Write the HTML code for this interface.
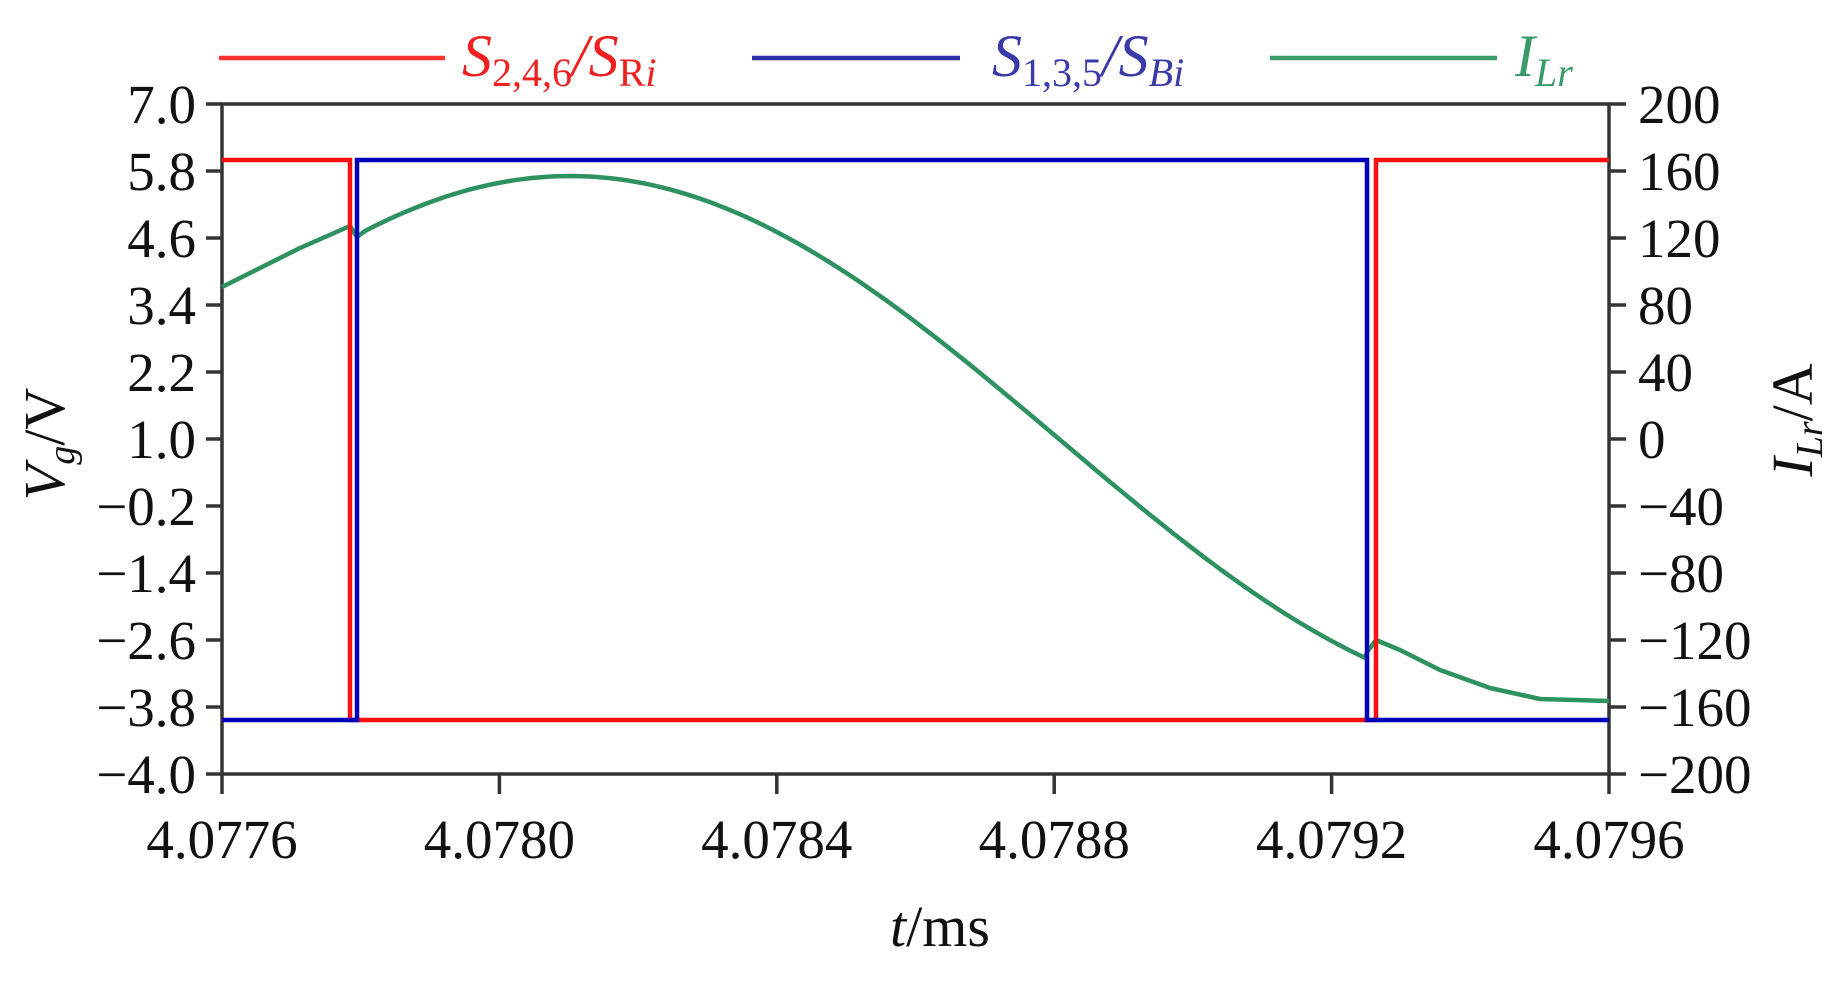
<!DOCTYPE html>
<html><head><meta charset="utf-8"><style>
html,body{margin:0;padding:0;background:#fff;}
svg{display:block;font-family:"Liberation Serif",serif;}
</style></head><body>
<svg id="s" width="1846" height="984" viewBox="0 0 1846 984" xmlns="http://www.w3.org/2000/svg">
<g stroke="#333" stroke-width="3.5" fill="none">
<rect x="222" y="104" width="1387" height="670"/>
</g>
<g id="ticks" stroke="#333" stroke-width="3.5"></g>
<g id="labels" font-size="55" fill="#111"></g>
<polyline id="green" fill="none" stroke="#2e9160" stroke-width="4.5" stroke-linejoin="round"/>
<polyline fill="none" stroke="#ff1010" stroke-width="4.5" points="222,160 350,160 350,720 1376,720 1376,160 1609,160"/>
<polyline fill="none" stroke="#0000b8" stroke-width="4.5" points="222,720 357,720 357,160 1367,160 1367,720 1609,720"/>
<!-- legend -->
<line x1="219" y1="58" x2="445" y2="58" stroke="#ff3030" stroke-width="4.5"/>
<text x="462" y="76" font-size="60" font-style="italic" fill="#ee2020">S<tspan font-size="40" dy="10" font-style="normal">2,4,6</tspan><tspan dy="-10">/S</tspan><tspan font-size="40" dy="10" font-style="normal">R</tspan><tspan font-size="40">i</tspan></text>
<line x1="752" y1="58" x2="960" y2="58" stroke="#3030a8" stroke-width="4.5"/>
<text x="992" y="76" font-size="60" font-style="italic" fill="#3a3aa8">S<tspan font-size="40" dy="10" font-style="normal">1,3,5</tspan><tspan dy="-10">/S</tspan><tspan font-size="40" dy="10">Bi</tspan></text>
<line x1="1270" y1="58" x2="1497" y2="58" stroke="#3a9a6a" stroke-width="4.5"/>
<text x="1515" y="76" font-size="60" font-style="italic" fill="#3a9a6a">I<tspan font-size="40" dy="10">Lr</tspan></text>
<!-- axis titles -->
<text x="940" y="946" font-size="58" text-anchor="middle" fill="#111"><tspan font-style="italic">t</tspan>/ms</text>
<text transform="translate(64,444) rotate(-90)" font-size="58" text-anchor="middle" fill="#111"><tspan font-style="italic">V</tspan><tspan font-style="italic" font-size="38" dy="10">g</tspan><tspan dy="-10">/V</tspan></text>
<text transform="translate(1812,420) rotate(-90)" font-size="58" text-anchor="middle" fill="#111"><tspan font-style="italic">I</tspan><tspan font-style="italic" font-size="38" dy="10">Lr</tspan><tspan dy="-10">/A</tspan></text>
</svg>
<script>
var NS="http://www.w3.org/2000/svg";
function el(p,t,a,txt){var e=document.createElementNS(NS,t);for(var k in a)e.setAttribute(k,a[k]);if(txt!=null)e.textContent=txt;document.getElementById(p).appendChild(e);}
var L=["7.0","5.8","4.6","3.4","2.2","1.0","\u22120.2","\u22121.4","\u22122.6","\u22123.8","\u22124.0"];
var R=["200","160","120","80","40","0","\u221240","\u221280","\u2212120","\u2212160","\u2212200"];
for(var i=0;i<11;i++){var y=104+i*67;
el("ticks","line",{x1:206,y1:y,x2:222,y2:y});
el("ticks","line",{x1:1609,y1:y,x2:1626,y2:y});
el("labels","text",{x:196,y:y+19,"text-anchor":"end"},L[i]);
el("labels","text",{x:1638,y:y+19},R[i]);}
var X=["4.0776","4.0780","4.0784","4.0788","4.0792","4.0796"];
for(var j=0;j<6;j++){var x=222+j*277.4;
el("ticks","line",{x1:x,y1:774,x2:x,y2:794});
el("labels","text",{x:x,y:858,"text-anchor":"middle"},X[j]);}
var pts=[[222,287],[260,268],[300,248],[350,226],[357,237]];
for(var x=365;x<=1367;x+=8){var I=157*Math.cos((x-570)/489*Math.PI/2);pts.push([x,439-1.675*I]);}
pts.push([1367,652],[1376,640],[1400,650],[1440,670],[1490,688],[1540,699],[1609,701]);
document.getElementById("green").setAttribute("points",pts.map(function(p){return p[0]+","+p[1].toFixed(1)}).join(" "));
</script>
</body></html>
